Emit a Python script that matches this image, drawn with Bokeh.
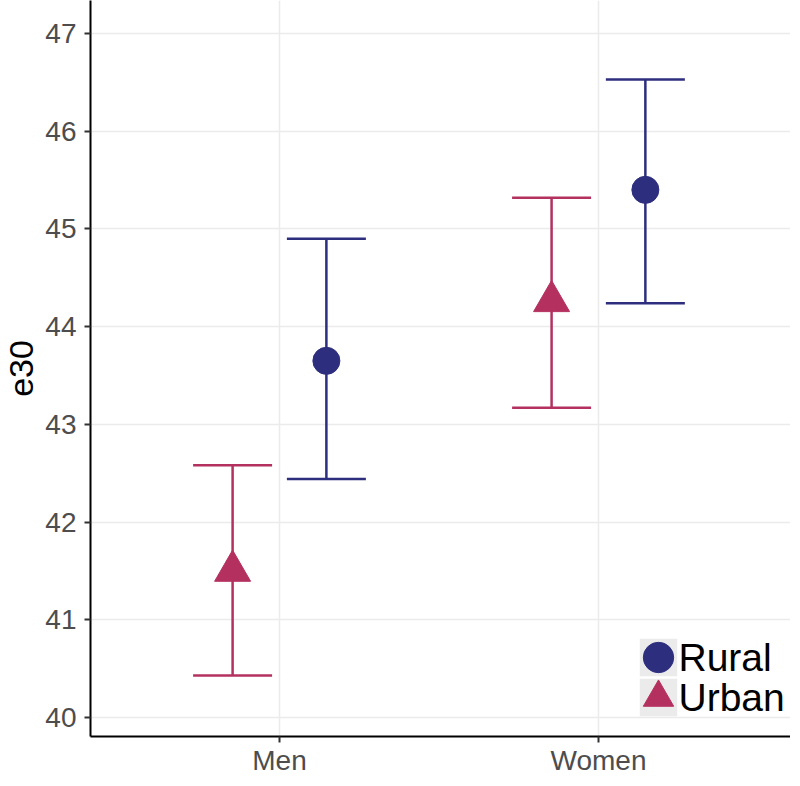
from bokeh.plotting import figure
from bokeh.models import (ColumnDataSource, Range1d, FixedTicker, Whisker, TeeHead,
                          Legend, LegendItem, Label)
from bokeh.transform import dodge
from bokeh.embed import file_html
from bokeh.resources import INLINE

categories = ["Men", "Women"]
rural_est = [43.65, 45.40]
rural_lower = [42.44, 44.24]
rural_upper = [44.90, 46.53]
urban_est = [41.50, 44.26]
urban_lower = [40.43, 43.17]
urban_upper = [42.58, 45.32]
y_ticks = [40, 41, 42, 43, 44, 45, 46, 47]
series_names = ["Rural", "Urban"]

RURAL = "#2D2E7E"
URBAN = "#B4315F"
KEY_BG = "#EBEBEB"
NAN = float("nan")

xpos = [i + 1 for i in range(len(categories))]
rural = ColumnDataSource(dict(x=xpos, est=rural_est, lower=rural_lower, upper=rural_upper))
urban = ColumnDataSource(dict(x=xpos, est=urban_est, lower=urban_lower, upper=urban_upper))

p = figure(width=790, height=778, output_backend="svg", toolbar_location=None,
           x_range=Range1d(0.4075, 2.602), y_range=Range1d(39.805, 47.338),
           min_border_left=90, min_border_right=0, min_border_top=0, min_border_bottom=20)
p.outline_line_color = None
p.background_fill_color = "white"

for src, col, off in [(rural, RURAL, 0.147), (urban, URBAN, -0.147)]:
    w = Whisker(source=src, base=dodge("x", off), upper="upper", lower="lower",
                dimension="height", line_color=col, line_width=2.5,
                upper_head=TeeHead(size=79, line_color=col, line_width=2.5),
                lower_head=TeeHead(size=79, line_color=col, line_width=2.5))
    p.add_layout(w)

r_rural = p.scatter(x=dodge("x", 0.147), y="est", source=rural, marker="circle",
                    size=27, fill_color=RURAL, line_color=RURAL)
r_urban = p.scatter(x=dodge("x", -0.147), y="est", source=urban, marker="triangle",
                    size=36, fill_color=URBAN, line_color=URBAN)

# legend-only key renderers (nothing drawn in the plot area)
key_src = ColumnDataSource(dict(x=[NAN], y=[NAN]))
r_key = p.scatter(x="x", y="y", source=key_src, marker="square", size=30,
                  fill_color=KEY_BG, line_color=KEY_BG, line_width=7, line_join="miter")
r_lrural = p.scatter(x="x", y="y", source=key_src, marker="circle", size=30,
                     fill_color=RURAL, line_color=RURAL)
r_lurban = p.scatter(x="x", y="y", source=key_src, marker="triangle", size=30,
                     fill_color=URBAN, line_color=URBAN)

p.xaxis.ticker = FixedTicker(ticks=xpos)
p.xaxis.major_label_overrides = {x: c for x, c in zip(xpos, categories)}
p.yaxis.ticker = FixedTicker(ticks=y_ticks)
p.yaxis.axis_label = "e30"

for ax in (p.xaxis[0], p.yaxis[0]):
    ax.axis_line_color = "black"
    ax.axis_line_width = 2
    ax.major_tick_line_color = "#333333"
    ax.major_tick_line_width = 2
    ax.major_tick_out = 6
    ax.major_tick_in = 0
    ax.minor_tick_line_color = None
    ax.major_label_text_font = "Liberation Sans"
    ax.major_label_text_font_size = "28px"
    ax.major_label_text_color = "#4D4D4D"
    ax.axis_label_text_font = "Liberation Sans"
    ax.axis_label_text_font_size = "34px"
    ax.axis_label_text_font_style = "normal"
    ax.axis_label_text_color = "black"
p.xaxis.major_label_standoff = 2
p.yaxis.major_label_standoff = 8
p.yaxis.axis_label_standoff = 9

p.xgrid.grid_line_color = "#EBEBEB"
p.ygrid.grid_line_color = "#EBEBEB"
p.xgrid.grid_line_width = 1.5
p.ygrid.grid_line_width = 1.5

# legend: one Legend per entry so the keys can sit tightly stacked
for name, rend, ly in [(series_names[0], r_lrural, 41), (series_names[1], r_lurban, 1)]:
    lg = Legend(items=[LegendItem(label=" ", renderers=[r_key, rend])],
                location=(530, ly), glyph_width=76, glyph_height=76, spacing=0,
                padding=0, margin=0, label_standoff=0, label_text_font_size="1px",
                border_line_color=None, background_fill_alpha=0)
    p.add_layout(lg)
    p.add_layout(Label(x=588, y=ly + 38, x_units="screen", y_units="screen", text=name,
                       text_font="Liberation Sans", text_font_size="39px",
                       text_color="black", text_baseline="middle", text_align="left"))

open("out.html", "w").write(file_html(p, INLINE))
